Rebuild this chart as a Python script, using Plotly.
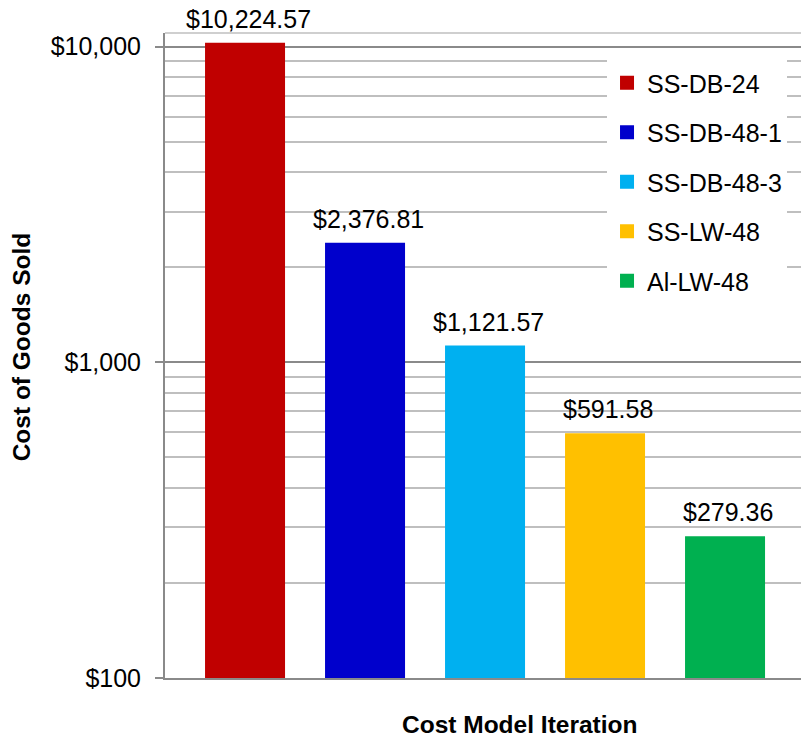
import numpy as np
import plotly.graph_objects as go

# ── data ──────────────────────────────────────────────
ITERATIONS = ["SS-DB-24", "SS-DB-48-1", "SS-DB-48-3", "SS-LW-48", "Al-LW-48"]
COGS = [10224.57, 2376.81, 1121.57, 591.58, 279.36]
BAR_COLORS = ["#C00000", "#0000CC", "#00B0F0", "#FFC000", "#00B050"]
TICK_VALS = [100, 1000, 10000]
TICK_TEXT = ["$100", "$1,000", "$10,000"]

FONT = "Arial, 'Liberation Sans', sans-serif"
MAJOR_GRID = "#8A8A8A"
MINOR_GRID = "#BFBFBF"

fig = go.Figure()

for i, (name, val, color) in enumerate(zip(ITERATIONS, COGS, BAR_COLORS)):
    fig.add_trace(go.Bar(
        x=[name],
        y=[val],
        name=name,
        # 同色描边 → 图例方块稍大一些
        marker=dict(color=color, line=dict(width=2, color=color)),
        width=0.65,
        legendgroup=name,
        hovertemplate=f"<b>{name}</b><br>$%{{y:,.2f}}<extra></extra>",
    ))
    # 数据标签
    fig.add_annotation(
        x=name, y=np.log10(val), text=f"${val:,.2f}",
        showarrow=False, yanchor="bottom", yshift=9, xshift=3,
        font=dict(size=25, color="#000000", family=FONT),
    )

# 坐标轴标题
fig.add_annotation(
    text="<b>Cost Model Iteration</b>", xref="paper", yref="paper",
    x=0.558, y=-0.072, showarrow=False, xanchor="center", yanchor="middle",
    font=dict(size=24.5, color="#000000", family=FONT),
)
fig.add_annotation(
    text="<b>Cost of Goods Sold</b>", xref="paper", yref="paper",
    x=-0.225, y=0.514, showarrow=False, textangle=-90,
    xanchor="center", yanchor="middle",
    font=dict(size=24.5, color="#000000", family=FONT),
)

# 顶部边框
fig.add_shape(type="line", xref="paper", yref="paper", x0=0, x1=1, y0=1, y1=1,
              line=dict(color=MINOR_GRID, width=1.5), layer="below")

fig.update_layout(
    width=801,
    height=738,
    margin=dict(l=165, r=0, t=33, b=60),
    paper_bgcolor="white",
    plot_bgcolor="white",
    barmode="overlay",
    font=dict(family=FONT, size=25, color="#000000"),
    showlegend=True,
    legend=dict(
        x=0.695, y=0.958, xanchor="left", yanchor="top",
        bgcolor="white", borderwidth=0,
        font=dict(size=25, color="#000000"),
        traceorder="grouped", tracegroupgap=14,
        itemwidth=30,
    ),
    xaxis=dict(
        range=[-0.667, 4.633],
        showticklabels=False,
        showgrid=False,
        showline=True, linecolor=MAJOR_GRID, linewidth=2,
        ticks="",
        zeroline=False,
    ),
    yaxis=dict(
        type="log",
        range=[2, 4.0434],
        tickvals=TICK_VALS,
        ticktext=TICK_TEXT,
        ticks="outside", ticklen=8, tickwidth=2, tickcolor=MAJOR_GRID,
        ticklabelstandoff=9,
        tickfont=dict(size=25, color="#000000"),
        showgrid=True, gridcolor=MAJOR_GRID, gridwidth=2,
        minor=dict(dtick="D1", showgrid=True, gridcolor=MINOR_GRID, gridwidth=1.5, ticks=""),
        showline=True, linecolor=MAJOR_GRID, linewidth=2,
        zeroline=False,
    ),
)

fig.write_html("out.html", config={"displayModeBar": False},
               post_script="document.body.style.margin='0';")
